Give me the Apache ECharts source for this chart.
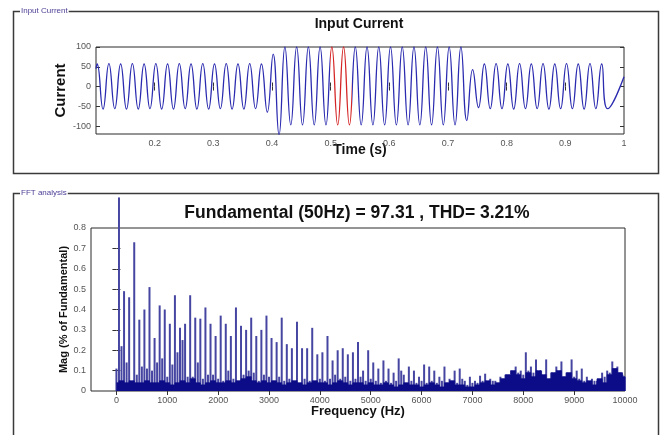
<!DOCTYPE html>
<html>
<head>
<meta charset="utf-8">
<script src="https://cdn.jsdelivr.net/npm/echarts@6.0.0/dist/echarts.min.js"></script>
<style>
html,body{margin:0;padding:0;background:#fff;}
#main{width:664px;height:435px;}
</style>
</head>
<body>
<div id="main"></div>
<script>
// ---- Input current: one value per half cycle (50 Hz -> every 0.01 s) ----
var currentHalfStart = 0.102;
var currentHalfStep = 0.01;
var currentEdge = [45, 25];   // value at t = 0.1 and at t = 1.0
var currentExtrema = [
  57,-57,58,-56,57,-57,58,-57,57,-56,58,-57,57,-57,58,-56,57,-57,58,-57,57,-56,58,-57,57,-57,58,-56,57,-65,
  82,-122,
  100,-97,100,-97,100,-97,100,-97,100,-97,100,-97,100,-97,100,-97,100,-97,100,-97,100,-97,100,-97,100,-97,100,-97,100,-97,100,
  -86,43,-53,
  57,-56,58,-56,57,-57,58,-56,57,-56,58,-57,57,-56,58,-56,57,-57,58,-56,57,-56
];
var redWindow = [0.499, 0.537];
var timeTicks = [0.2, 0.3, 0.4, 0.5, 0.6, 0.7, 0.8, 0.9, 1];
var currentTicks = [-100, -50, 0, 50, 100];

// ---- FFT ----
var dcMag = 0.11;
var fundamentalMag = 0.95;   // runs off the top of the axis like the original
// 150, 250, ... 9950 Hz
var oddHarmonicMag = [
  0.49,0.46,0.73,0.35,0.40,0.51,0.26,0.42,0.40,0.33,
  0.47,0.31,0.33,0.47,0.36,0.355,0.41,0.33,0.27,0.37,
  0.33,0.27,0.41,0.32,0.30,0.36,0.27,0.30,0.37,0.26,
  0.24,0.36,0.23,0.21,0.34,0.21,0.21,0.31,0.18,0.19,
  0.27,0.15,0.20,0.21,0.18,0.19,0.24,0.10,0.20,0.14,
  0.11,0.15,0.11,0.09,0.16,0.08,0.12,0.10,0.07,0.13,
  0.12,0.10,0.07,0.12,0.06,0.10,0.11,0.05,0.07,0.05,
  0.075,0.085,0.06,0.05,0.07,0.08,0.06,0.12,0.10,0.19,
  0.12,0.155,0.10,0.155,0.09,0.12,0.145,0.09,0.155,0.10,
  0.11,0.07,0.06,0.05,0.09,0.10,0.145,0.12,0.08
];
// 100, 200, ... 10000 Hz
var evenHarmonicMag = [
  0.22,0.14,0.04,0.08,0.12,0.11,0.10,0.14,0.16,0.07,
  0.13,0.19,0.25,0.07,0.07,0.14,0.06,0.08,0.08,0.06,
  0.05,0.10,0.06,0.05,0.08,0.10,0.09,0.05,0.08,0.07,
  0.05,0.07,0.05,0.06,0.05,0.04,0.06,0.05,0.04,0.06,
  0.05,0.06,0.08,0.06,0.07,0.05,0.06,0.07,0.05,0.06,
  0.05,0.04,0.05,0.04,0.05,0.10,0.04,0.05,0.04,0.05,
  0.04,0.05,0.04,0.05,0.04,0.05,0.04,0.06,0.03,0.04,
  0.04,0.05,0.04,0.05,0.04,0.06,0.05,0.07,0.09,0.08,
  0.10,0.09,0.08,0.07,0.06,0.08,0.09,0.07,0.08,0.07,
  0.06,0.05,0.04,0.05,0.06,0.07,0.09,0.10,0.09,0.07
];
// 0, 100, ... 10000 Hz
var noiseFloorMag = [
  0.04,
  0.05,0.04,0.05,0.04,0.04,0.05,0.04,0.04,0.05,0.04,
  0.03,0.04,0.05,0.04,0.06,0.04,0.03,0.04,0.05,0.04,
  0.04,0.05,0.04,0.05,0.06,0.07,0.05,0.04,0.05,0.04,
  0.05,0.04,0.03,0.04,0.05,0.04,0.03,0.04,0.05,0.04,
  0.04,0.03,0.04,0.05,0.04,0.03,0.04,0.04,0.03,0.04,
  0.03,0.03,0.04,0.03,0.02,0.03,0.04,0.03,0.03,0.02,
  0.03,0.04,0.03,0.02,0.04,0.05,0.03,0.03,0.02,0.02,
  0.03,0.04,0.05,0.03,0.04,0.06,0.08,0.10,0.08,0.06,
  0.09,0.07,0.10,0.08,0.06,0.09,0.10,0.07,0.09,0.06,
  0.05,0.04,0.05,0.03,0.06,0.04,0.08,0.11,0.09,0.07
];
var freqTicks = [0, 1000, 2000, 3000, 4000, 5000, 6000, 7000, 8000, 9000, 10000];
var magTicks = [0, 0.1, 0.2, 0.3, 0.4, 0.5, 0.6, 0.7, 0.8];

var FONT = '"Liberation Sans", Arial, sans-serif';

// build series data
var waveData = [[0.1, currentEdge[0]]];
currentExtrema.forEach(function (v, i) {
  waveData.push([+(currentHalfStart + i * currentHalfStep).toFixed(3), v]);
});
waveData.push([1, currentEdge[1]]);

var barData = [[0, dcMag], [50, fundamentalMag]];
oddHarmonicMag.forEach(function (v, i) { barData.push([150 + 100 * i, v]); });
evenHarmonicMag.forEach(function (v, i) { barData.push([100 + 100 * i, v]); });
var floorData = noiseFloorMag.map(function (v, i) { return [100 * i, v]; });

function boxAxis(grid, pos, min, max, ticks, labels, extra) {
  var a = {
    gridIndex: grid, type: 'value', position: pos, min: min, max: max,
    axisLine: { show: false },
    splitLine: { show: false },
    nameMoveOverlap: false,
    axisTick: { inside: true, length: 4, customValues: ticks, lineStyle: { color: '#333' } },
    axisLabel: labels ? {
      customValues: labels, fontSize: 9, color: '#555', fontFamily: FONT, margin: 5,
      formatter: function (v) { return String(v); }
    } : { show: false }
  };
  return Object.assign(a, extra || {});
}

var nameStyle = function (size) {
  return { fontWeight: 'bold', fontSize: size, color: '#111', fontFamily: FONT };
};

var chart = echarts.init(document.getElementById('main'));
chart.setOption({
  animation: false,
  backgroundColor: '#fff',
  grid: [
    { left: 96, top: 47, right: 40, height: 87, show: true, borderColor: '#2a2a2a', borderWidth: 1 },
    { left: 91, top: 228, right: 39, height: 163, show: true, borderColor: '#2a2a2a', borderWidth: 1 }
  ],
  xAxis: [
    boxAxis(0, 'bottom', 0.1, 1, timeTicks.slice(0, -1), timeTicks, {
      name: 'Time (s)', nameLocation: 'middle', nameGap: 9, nameTextStyle: nameStyle(14)
    }),
    boxAxis(0, 'top', 0.1, 1, timeTicks.slice(0, -1), null),
    boxAxis(1, 'bottom', -500, 10000, freqTicks.slice(0, -1), freqTicks, {
      name: 'Frequency (Hz)', nameLocation: 'middle', nameGap: 14, nameTextStyle: nameStyle(13)
    }),
    boxAxis(1, 'top', -500, 10000, freqTicks.slice(0, -1), null)
  ],
  yAxis: [
    boxAxis(0, 'left', -120, 100, currentTicks, currentTicks, {
      name: 'Current', nameLocation: 'middle', nameGap: 28, nameTextStyle: nameStyle(15)
    }),
    boxAxis(0, 'right', -120, 100, currentTicks, null),
    boxAxis(1, 'left', 0, 0.8, magTicks.slice(1, -1), magTicks, {
      name: 'Mag (% of Fundamental)', nameLocation: 'middle', nameGap: 22, nameTextStyle: nameStyle(11)
    }),
    boxAxis(1, 'right', 0, 0.8, magTicks.slice(1, -1), null)
  ],
  visualMap: {
    type: 'piecewise', show: false, seriesIndex: 0, dimension: 0,
    pieces: [{ gte: redWindow[0], lte: redWindow[1], color: '#d42424' }],
    outOfRange: { color: '#2b2bb0' }
  },
  series: [
    {
      type: 'line', xAxisIndex: 0, yAxisIndex: 0, data: waveData,
      smooth: 0.5, showSymbol: false, clip: true,
      lineStyle: { width: 1.3 }
    },
    {
      type: 'bar', xAxisIndex: 2, yAxisIndex: 2, data: barData,
      barWidth: 2, clip: false,
      itemStyle: { color: '#4646a2' }
    },
    {
      type: 'line', xAxisIndex: 2, yAxisIndex: 2, data: floorData,
      step: 'middle', showSymbol: false, z: 3,
      lineStyle: { width: 0.8, color: '#0c0c88' },
      areaStyle: { color: '#0c0c88', opacity: 1 }
    }
  ],
  graphic: [
    { type: 'rect', shape: { x: 13.5, y: 11.5, width: 645, height: 162 },
      style: { fill: null, stroke: '#3a3a3a', lineWidth: 1.5 } },
    { type: 'rect', shape: { x: 13.5, y: 193.5, width: 645, height: 270 },
      style: { fill: null, stroke: '#3a3a3a', lineWidth: 1.5 } },
    { type: 'text', x: 20, y: 11, style: { text: 'Input Current', font: '8px ' + FONT, fill: '#4b3f95',
      verticalAlign: 'middle', backgroundColor: '#fff', padding: [0, 1] } },
    { type: 'text', x: 20, y: 193, style: { text: 'FFT analysis', font: '8px ' + FONT, fill: '#4b3f95',
      verticalAlign: 'middle', backgroundColor: '#fff', padding: [0, 1] } },
    { type: 'text', x: 359, y: 24, style: { text: 'Input Current', font: 'bold 14px ' + FONT, fill: '#111',
      align: 'center', verticalAlign: 'middle' } },
    { type: 'text', x: 357, y: 213, style: { text: 'Fundamental (50Hz) = 97.31 , THD= 3.21%', font: 'bold 17.5px ' + FONT,
      fill: '#111', align: 'center', verticalAlign: 'middle' } }
  ]
});
</script>
</body>
</html>
